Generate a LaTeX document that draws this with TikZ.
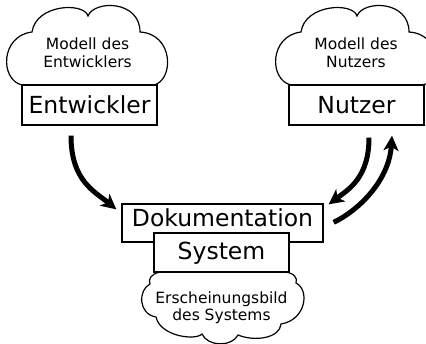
\documentclass[tikz,border=0pt]{standalone}
\usepackage{fontspec}
\setmainfont{DejaVu Sans}
\usetikzlibrary{arrows.meta}

\begin{document}
\begin{tikzpicture}[x=1pt,y=-1pt,
  box/.style={draw, line width=1.3pt, fill=white, inner sep=0pt,
    font=\fontsize{23.5}{28}\selectfont},
  cloudline/.style={draw, line width=1.2pt, fill=white},
  cloudtxt/.style={font=\fontsize{15.5}{18}\selectfont, anchor=base, inner sep=0pt},
  flow/.style={line width=5pt, -{Stealth[length=15pt,width=15pt,inset=4pt]}}]

\useasboundingbox (0,0) rectangle (426,344);

% thought clouds above the two actors
\draw[cloudline] (22,85) .. controls (0,80) and (0,36) .. (32,32)
  .. controls (36,4) and (84,2) .. (88,16)
  .. controls (94,0) and (140,0) .. (140,32)
  .. controls (174,34) and (174,80) .. (154,85) -- cycle;
\draw[cloudline, shift={(269,0)}] (22,85) .. controls (0,80) and (0,36) .. (32,32)
  .. controls (36,4) and (84,2) .. (88,16)
  .. controls (94,0) and (140,0) .. (140,32)
  .. controls (174,34) and (174,80) .. (154,85) -- cycle;

% cloud below the system
\draw[cloudline] (160,272) .. controls (151,274) and (148,279) .. (150,284)
  .. controls (138,290) and (138,314) .. (156,317)
  .. controls (160,336) and (195,341) .. (202,334)
  .. controls (208,347) and (232,347) .. (238,335)
  .. controls (255,342) and (280,338) .. (281,324)
  .. controls (306,320) and (310,290) .. (296,283)
  .. controls (298,278) and (294,273) .. (285,272) -- cycle;

% boxes
\node[box, minimum width=135pt, minimum height=40pt, text height=18pt, text depth=0pt]
  (ent) at (89.5,105) {Entwickler};
\node[box, minimum width=135pt, minimum height=40pt, text height=18pt, text depth=0pt]
  (nut) at (356.5,105) {Nutzer};
\node[box, minimum width=201pt, minimum height=38pt, text height=17pt, text depth=9pt]
  (dok) at (222.5,223) {Dokumentation};
\node[box, minimum width=135pt, minimum height=39pt, text height=17pt, text depth=2pt]
  (sys) at (221.5,252.5) {System};

% cloud texts
\node[cloudtxt] (m1a) at (87.5,50) {Modell des};
\node[cloudtxt] (m1b) at (87.5,68) {Entwicklers};
\node[cloudtxt] (m2a) at (356,50) {Modell des};
\node[cloudtxt] (m2b) at (356,68) {Nutzers};
\node[cloudtxt] (m3a) at (221.5,304) {Erscheinungsbild};
\node[cloudtxt] (m3b) at (221.5,321) {des Systems};

% flows
\draw[flow] ([xshift=-18.5pt,yshift=-10pt]ent.south)
  .. controls +(0,45) and +(-22,-18) .. ([xshift=-5pt,yshift=-6pt]dok.north west);
\draw[flow] ([xshift=12.5pt,yshift=-12pt]nut.south)
  .. controls +(0,40) and +(20,-15) .. ([xshift=5pt,yshift=-1pt]dok.north east);
\draw[flow] ([xshift=10pt,yshift=-19pt]dok.north east)
  .. controls +(25,-12) and +(-3,45) .. ([xshift=35.5pt,yshift=-10pt]nut.south);
\end{tikzpicture}
\end{document}
